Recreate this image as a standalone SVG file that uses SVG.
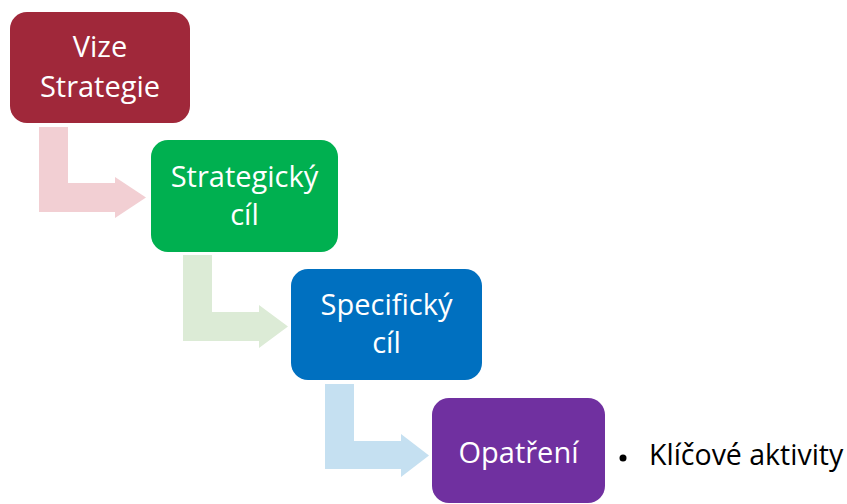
<svg xmlns="http://www.w3.org/2000/svg" width="847" height="504" viewBox="0 0 847 504">
<style>
.lbl{font-family:"Open Sans","DejaVu Sans",sans-serif;font-size:29px;fill:#ffffff;text-anchor:middle}
.side{font-family:"Open Sans","DejaVu Sans",sans-serif;font-size:28.5px;fill:#000000}
</style>
<rect width="847" height="504" fill="#ffffff"/>
<g id="connectors">
<path d="M39,127 H68 V183 H115 V177 L146,197.5 L115,218 V212 H39 Z" fill="#F2CFD3"/>
<path d="M183,255 H212 V312 H259 V305 L288,326.5 L259,348 V341 H183 Z" fill="#DCEBD6"/>
<path d="M325,384 H354 V441 H401 V434 L429,455.5 L401,477 V469 H325 Z" fill="#C5E0F1"/>
</g>
<g id="node-vize">
<rect x="10" y="12" width="180" height="111" rx="17" fill="#A0283A"/>
<text class="lbl" x="100" y="57">Vize</text>
<text class="lbl" x="100" y="97">Strategie</text>
</g>
<g id="node-strategicky">
<rect x="151" y="140" width="187" height="112" rx="17" fill="#00B050"/>
<text class="lbl" x="244.5" y="187">Strategický</text>
<text class="lbl" x="244.5" y="225">cíl</text>
</g>
<g id="node-specificky">
<rect x="291" y="269" width="191" height="111" rx="17" fill="#0070C0"/>
<text class="lbl" x="386.5" y="315">Specifický</text>
<text class="lbl" x="386.5" y="353">cíl</text>
</g>
<g id="node-opatreni">
<rect x="432" y="398" width="173" height="105" rx="17" fill="#7030A0"/>
<text class="lbl" x="518.5" y="463">Opatření</text>
</g>
<g id="bullet">
<circle cx="623" cy="458" r="3.5" fill="#000000"/>
<text class="side" x="649" y="465">Klíčové aktivity</text>
</g>
</svg>
